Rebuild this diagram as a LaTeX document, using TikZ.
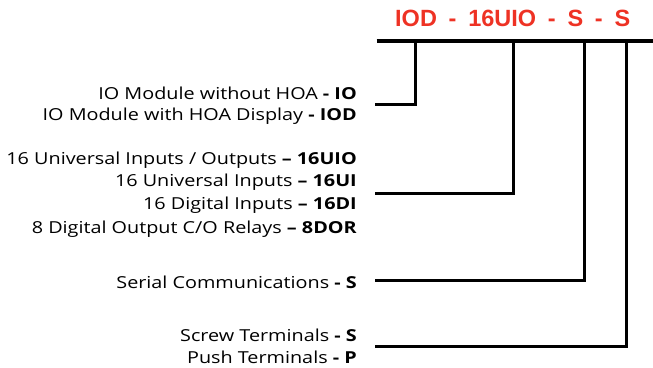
\documentclass[tikz,border=0pt]{standalone}
\usepackage{fontspec}
\setmainfont{Open Sans}[FakeStretch=1.2]
\newfontfamily\titlefont{Liberation Sans}[WordSpace=1.8]
\definecolor{hred}{RGB}{238,50,36}
\begin{document}
\begin{tikzpicture}[x=1pt,y=-1pt,
  lbl/.style={anchor=base east, inner sep=0pt, font=\fontsize{16.5}{19}\selectfont},
  ln/.style={line width=3pt, line cap=rect},
  bar/.style={line width=4pt}]
\useasboundingbox (0,0) rectangle (653,367);
\node[anchor=base west, inner sep=0pt, text=hred, font=\titlefont\bfseries\fontsize{23.5}{28}\selectfont] (title) at (395,26.7) {IOD - 16UIO - S - S};
\node[lbl] (l1) at (357,99) {IO Module without HOA \textbf{- IO}};
\node[lbl] (l2) at (357,120) {IO Module with HOA Display \textbf{- IOD}};
\node[lbl] (l3) at (357,164.3) {16 Universal Inputs / Outputs \textbf{– 16UIO}};
\node[lbl] (l4) at (357,186.7) {16 Universal Inputs \textbf{– 16UI}};
\node[lbl] (l5) at (357,209.3) {16 Digital Inputs \textbf{– 16DI}};
\node[lbl] (l6) at (357,233.3) {8 Digital Output C/O Relays \textbf{– 8DOR}};
\node[lbl] (l7) at (357,288.3) {Serial Communications \textbf{- S}};
\node[lbl] (l8) at (357,341.7) {Screw Terminals \textbf{- S}};
\node[lbl] (l9) at (357,363.3) {Push Terminals \textbf{- P}};
\coordinate (bl) at (376.5,41);
\coordinate (br) at (653,41);
\coordinate (b1) at (415.5,41);
\coordinate (b2) at (513,41);
\coordinate (b3) at (584,41);
\coordinate (b4) at (626,41);
\coordinate (s1) at (376,104);
\coordinate (s2) at (376,193.3);
\coordinate (s3) at (376,280.7);
\coordinate (s4) at (376,346);
\draw[bar] (bl) -- (br);
\draw[ln] (b1) |- (s1);
\draw[ln] (b2) |- (s2);
\draw[ln] (b3) |- (s3);
\draw[ln] (b4) |- (s4);
\end{tikzpicture}
\end{document}
